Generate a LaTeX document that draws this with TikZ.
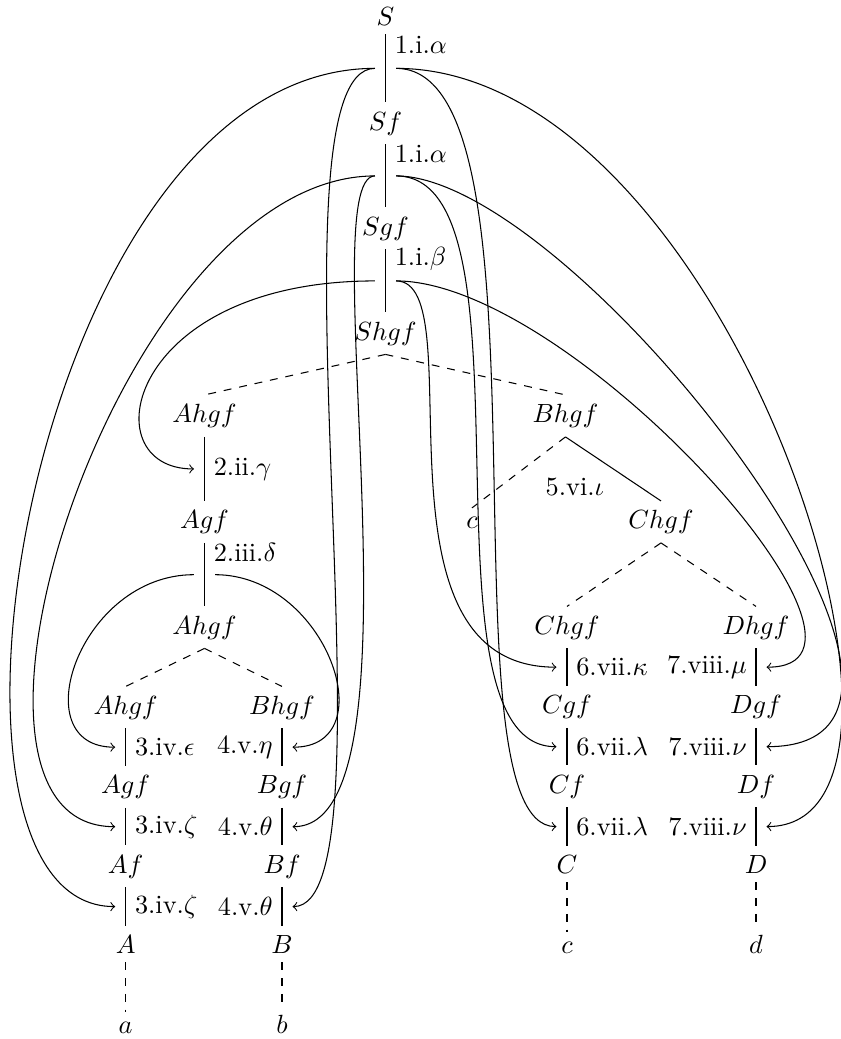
\documentclass[tikz,border=0pt]{standalone}
\usepackage{tikz}

\begin{document}
\begin{tikzpicture}[x=0.38pt,y=-0.38pt,>=to,
                    every node/.style={anchor=base},
                    hub/.style={midway,anchor=center,inner sep=3.8pt},
                    rule/.style={pos=.15,anchor=west}]
                    \useasboundingbox (0,0) rectangle (841,1039);
                    % main derivation
                    \node (s) at (385.5,25) {$S$};
                    \node (sf) at (385.5,130) {$Sf$};
                    \node (sgf) at (385.5,235) {$Sgf$};
                    \node (shgf) at (385.5,340) {$Shgf$};
                    \draw (s.south) -- node[rule] {1.i.$\alpha$} node[hub] (th1) {} (sf.north);
                    \draw (sf.south) -- node[rule] {1.i.$\alpha$} node[hub] (th2) {} (sgf.north);
                    \draw (sgf.south) -- node[rule] {1.i.$\beta$} node[hub] (th3) {} (shgf.north);
                    % left branch
                    \node (p0) at (204.5,422.5) {$Ahgf$};
                    \node (p1) at (204.5,528.5) {$Agf$};
                    \node (p2) at (204.5,634) {$Ahgf$};
                    \draw[dashed] (shgf.south) -- (p0.north);
                    \draw (p0.south) -- node[hub] (ph1) {} node[midway,right] {2.ii.$\gamma$} (p1.north);
                    \draw (p1.south) -- node[rule] {2.iii.$\delta$} node[hub] (ph2) {} (p2.north);
                    % right branch
                    \node (bhgf) at (565.5,422.5) {$Bhgf$};
                    \node (cl) at (472,528.5) {$c$};
                    \node (chgf) at (661,528.5) {$Chgf$};
                    \draw[dashed] (shgf.south) -- (bhgf.north);
                    \draw[dashed] (bhgf.south) -- (cl.north);
                    \draw (bhgf.south) -- node[below left] {5.vi.$\iota$} (chgf.north);
                    % the four columns
                    \foreach \col/\x/\y/\L in {a/125.7/714/A, b/282/714/B, c/567/634/C, d/756/634/D}{
                      \node (\col0) at (\x,\y) {$\L hgf$};
                      \node (\col1) at (\x,\y+79.5) {$\L gf$};
                      \node (\col2) at (\x,\y+159) {$\L f$};
                      \node (\col3) at (\x,\y+239) {$\L$};
                      \node (\col4) at (\x,\y+319) {$\col$};
                    }
                    \draw[dashed] (p2.south) -- (a0.north);
                    \draw[dashed] (p2.south) -- (b0.north);
                    \draw[dashed] (chgf.south) -- (c0.north);
                    \draw[dashed] (chgf.south) -- (d0.north);
                    \foreach \col/\side/\n/\r/\first/\rest in {a/right/3/iv/\epsilon/\zeta, b/left/4/v/\eta/\theta,
                                                              c/right/6/vii/\kappa/\lambda, d/left/7/viii/\mu/\nu}{
                      \draw (\col0.south) -- node[hub] (\col h1) {} node[midway,\side] {\n.\r.$\first$} (\col1.north);
                      \draw (\col1.south) -- node[hub] (\col h2) {} node[midway,\side] {\n.\r.$\rest$} (\col2.north);
                      \draw (\col2.south) -- node[hub] (\col h3) {} node[midway,\side] {\n.\r.$\rest$} (\col3.north);
                      \draw[dashed] (\col3.south) -- (\col4.north);
                    }
                    % where each rule application goes
                    \foreach \from/\to/\a/\b in {th1.west/ah3.west/-343/-216, th2.west/ah2.west/-256/-202,
                                                 th3.west/ph1.west/-249/-104, th1.west/bh3.east/-116/110,
                                                 th2.west/bh2.east/-65/140, th1.east/ch3.west/166/-120,
                                                 th2.east/ch2.west/148/-146, th3.east/ch1.west/80/-197,
                                                 th1.east/dh3.east/334/204, th2.east/dh2.east/180/250,
                                                 th3.east/dh1.east/177/153, ph2.west/ah1.west/-115/-93,
                                                 ph2.east/bh1.east/112/93}{
                      \draw[->] (\from) .. controls +(\a,0) and +(\b,0) .. (\to);
                    }
                  \end{tikzpicture}
\end{document}
